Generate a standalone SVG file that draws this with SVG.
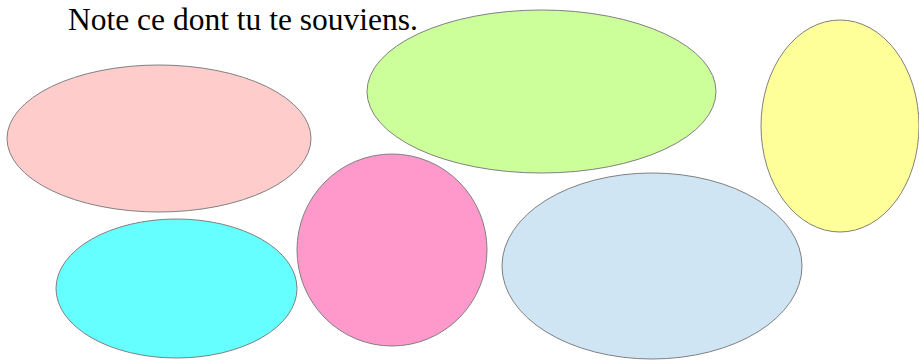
<svg xmlns="http://www.w3.org/2000/svg" width="919" height="360" viewBox="0 0 919 360">
<style>
.n{stroke:#808080;stroke-width:1}
.t{font-family:"Liberation Serif","Times New Roman",serif;font-size:31.5px;fill:#000}
</style>
<rect width="919" height="360" fill="#fff"/>
<g id="salmon"><ellipse class="n" cx="159" cy="138.5" rx="152" ry="73.5" fill="#ffcccc"/></g>
<g id="green"><ellipse class="n" cx="541.5" cy="91.5" rx="174.5" ry="81.5" fill="#ccff99"/></g>
<g id="yellow"><ellipse class="n" cx="840" cy="126" rx="79" ry="106" fill="#ffff99"/></g>
<g id="cyan"><ellipse class="n" cx="176.5" cy="288.5" rx="120.5" ry="69.5" fill="#66ffff"/></g>
<g id="pink"><ellipse class="n" cx="392" cy="250" rx="95" ry="96" fill="#ff99cc"/></g>
<g id="blue"><ellipse class="n" cx="652" cy="266" rx="150" ry="93" fill="#cfe5f3"/></g>
<g id="title"><text class="t" x="68" y="30">Note ce dont tu te souviens.</text></g>
<g id="connectors"></g>
</svg>
